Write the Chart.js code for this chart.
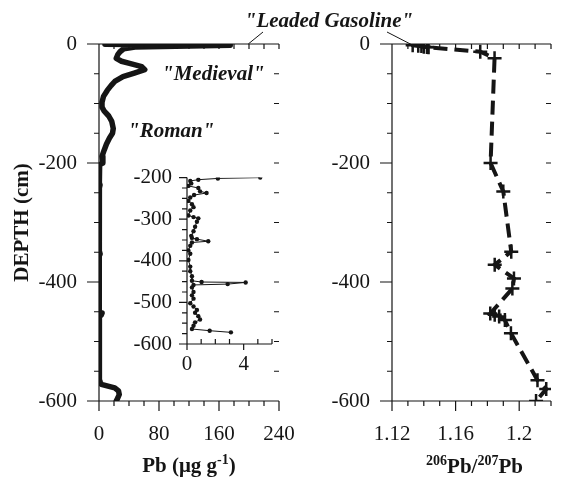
<!DOCTYPE html>
<html><head><meta charset="utf-8">
<script src="https://cdn.jsdelivr.net/npm/chart.js@4.4.1/dist/chart.umd.min.js"></script>
<style>
html,body{margin:0;padding:0;background:#fff;width:572px;height:478px;overflow:hidden}
#wrap{position:relative;width:572px;height:478px;background:#fff}
canvas{position:absolute}
</style></head><body>
<div id="wrap">
<canvas id="cA" width="572" height="478" style="left:0;top:0"></canvas>
<canvas id="cC" width="282" height="478" style="left:290px;top:0"></canvas>
<canvas id="cB" width="160" height="230" style="left:120px;top:150px"></canvas>
</div>
<script>
// ---------- DATA ----------
// Pb concentration, upper core (0 to -200 cm)
const pbUpperDepth = [-0.5,-2,-5,-8,-13,-18,-24,-29,-33,-38,-43,-49,-55,-63,-70,-78,-88,-98,-106,-113,-121,-130,-142,-150,-158,-168,-178,-189];
const pbUpperValue = [8,175,48,33,28,25,23,30,42,57,61,47,32,21,16,11,6,4,4,7,13,17,19,18,14,10,7,4];
// Pb concentration, -200 to -572 cm (shown in the inset)
const insetDepth = [-200,-202,-205,-208,-214,-220,-225,-233,-237,-242,-248,-256,-264,-271,-279,-291,-295,-298,-306,-318,-329,-340,-345,-348,-353,-356,-364,-375,-383,-398,-414,-425,-437,-448,-451,-452,-456,-458,-464,-475,-483,-491,-502,-510,-518,-525,-533,-541,-548,-556,-564,-568,-572];
const insetPb = [5.17,2.18,0.8,0.23,0.3,0.1,0.8,0.92,1.38,0.5,0.23,0.1,0.35,0.46,0.23,0.1,0.46,0.8,0.7,0.57,0.46,0.3,0.35,0.7,1.5,0.35,0.23,0.1,0.23,0.1,0.23,0.23,0.35,0.35,1.03,4.14,2.87,0.46,0.35,0.46,0.35,0.46,0.23,0.46,0.7,0.57,0.8,0.92,0.57,0.46,0.35,1.6,3.1];
// Pb concentration, bottom of core
const pbLowerDepth = [-575,-578,-583,-589,-595,-600];
const pbLowerValue = [12,21,26,27,25,23];
// 206Pb/207Pb ratio
const ratioDepth = [-2,-3,-3.5,-4.5,-5,-5.5,-13,-24,-200,-248,-349,-371,-394,-411,-453,-455,-458,-464,-486,-565,-580,-600];
const ratioValue = [1.133,1.1365,1.1385,1.140,1.142,1.143,1.1755,1.1845,1.182,1.190,1.195,1.1846,1.1967,1.1957,1.1818,1.1846,1.1874,1.191,1.1948,1.2115,1.217,1.2106];

// tick labels
const pbMajorTicks = [0,80,160,240];           const pbTickLabels = ['0','80','160','240'];
const depthMajorTicks = [0,-200,-400,-600];    const depthTickLabels = ['0','-200','-400','-600'];
const insetPbMajorTicks = [0,4];               const insetPbTickLabels = ['0','4'];
const insetDepthMajorTicks = [-200,-300,-400,-500,-600]; const insetDepthTickLabels = ['-200','-300','-400','-500','-600'];
const ratioMajorTicks = [1.12,1.16,1.2];       const ratioTickLabels = ['1.12','1.16','1.2'];

// ---------- HELPERS ----------
const ink = '#151515';
const serif = '"Liberation Serif", "Times New Roman", serif';
const tickFont = {family: serif, size: 21};
function steps(a, b, s){ const r=[]; const n=Math.round((b-a)/s); for(let i=0;i<=n;i++) r.push(Math.round((a+i*s)*1e6)/1e6); return r; }

function axis(minV, maxV, minorStep, major, labels, size, isX, pad){
  const minor = steps(minV, maxV, minorStep);
  return {
    type:'linear', min:minV, max:maxV,
    afterBuildTicks: s => { s.ticks = minor.map(v => ({value:v})); },
    afterFit: s => { if (isX) s.height = size; else s.width = size; },
    ticks:{autoSkip:false, maxRotation:0, minRotation:0, padding:pad, color:ink, font:tickFont,
      callback: v => { const i = major.findIndex(m => Math.abs(m-v) < 1e-9); return i < 0 ? '' : labels[i]; }},
    grid:{display:false, drawTicks:false},
    border:{display:false}
  };
}

function makeFrame(o){
  return {
    id:'frame',
    afterDraw(chart){
      const {ctx, chartArea:a} = chart; const xs = chart.scales.x, ys = chart.scales.y;
      const L=a.left, R=a.right, T=a.top, B=a.bottom;
      ctx.save(); ctx.strokeStyle = ink; ctx.lineWidth = 1.2; ctx.beginPath();
      if (o.lines.includes('left')) { ctx.moveTo(L,T); ctx.lineTo(L,B); }
      if (o.lines.includes('bottom')) { ctx.moveTo(L,B); ctx.lineTo(R,B); }
      if (o.lines.includes('top')) { ctx.moveTo(L,T); ctx.lineTo(R,T); }
      xs.ticks.forEach(t => {
        const p = xs.getPixelForValue(t.value); const mj = t.label !== '';
        if (o.bottom) { const len = mj ? o.bottom[0] : o.bottom[1]; ctx.moveTo(p,B); ctx.lineTo(p,B+len); }
        if (o.top) { ctx.moveTo(p,T); ctx.lineTo(p,T+o.top); }
      });
      ys.ticks.forEach(t => {
        const p = ys.getPixelForValue(t.value); const mj = t.label !== '';
        if (o.left) { const len = mj ? o.left[0] : o.left[1]; ctx.moveTo(L,p); ctx.lineTo(L-len,p); }
        if (o.right) { ctx.moveTo(R,p); ctx.lineTo(R-o.right,p); }
      });
      ctx.stroke(); ctx.restore();
      if (o.extra) o.extra(chart);
    }
  };
}

function richText(ctx, parts, cx, base, size, supSize, rise){
  const f = s => `bold ${s}px ${serif}`;
  let w = 0;
  parts.forEach(p => { ctx.font = f(p.sup ? supSize : size); w += ctx.measureText(p.t).width; });
  let x = cx - w/2;
  ctx.textAlign = 'left'; ctx.textBaseline = 'alphabetic';
  parts.forEach(p => { ctx.font = f(p.sup ? supSize : size); ctx.fillText(p.t, x, p.sup ? base - rise : base); x += ctx.measureText(p.t).width; });
}

const baseOpts = (pad) => ({
  responsive:false, animation:false, devicePixelRatio:1, events:[],
  layout:{padding:pad},
  plugins:{legend:{display:false}, tooltip:{enabled:false}}
});

// ---------- LEFT PANEL: Pb ----------
const pbDepthAll = pbUpperDepth.concat(insetDepth, pbLowerDepth);
const pbValueAll = pbUpperValue.concat(insetPb, pbLowerValue);
const pbSeries = pbDepthAll.map((d,i) => ({x: pbValueAll[i], y: d}));

new Chart(document.getElementById('cA'), {
  type:'scatter',
  data:{datasets:[{data:pbSeries, showLine:true, borderColor:ink, backgroundColor:ink, borderWidth:5.5,
    pointRadius:0, borderJoinStyle:'round', borderCapStyle:'round', tension:0}]},
  options:Object.assign(baseOpts({top:44, right:293, left:0, bottom:0}), {
    scales:{ x: axis(0,240,20,pbMajorTicks,pbTickLabels,77,true,21),
             y: axis(-600,0,50,depthMajorTicks,depthTickLabels,99,false,22) }
  }),
  plugins:[makeFrame({lines:['left','bottom','top'], left:[12,5], bottom:[10,5], top:5, right:5,
    extra(chart){
      const {ctx, chartArea:a, scales:{x, y}} = chart;
      ctx.save(); ctx.fillStyle = ink;
      // y title
      ctx.save(); ctx.translate(28, (a.top+a.bottom)/2); ctx.rotate(-Math.PI/2);
      ctx.font = `bold 21px ${serif}`; ctx.textAlign='center'; ctx.textBaseline='alphabetic';
      ctx.fillText('DEPTH (cm)', 0, 0); ctx.restore();
      // x title
      richText(ctx, [{t:'Pb (\u03bcg g'},{t:'-1',sup:true},{t:')'}], (a.left+a.right)/2, 472, 21, 14, 8);
      // annotations
      ctx.font = `italic bold 21px ${serif}`; ctx.textBaseline='alphabetic';
      ctx.textAlign='center'; ctx.fillText('"Leaded Gasoline"', 329, 27);
      ctx.textAlign='left';
      ctx.fillText('"Medieval"', 162, 80);
      ctx.fillText('"Roman"', 128, 137);
      ctx.strokeStyle = ink; ctx.lineWidth = 1;
      ctx.beginPath(); ctx.moveTo(263, 32); ctx.lineTo(x.getPixelForValue(199), y.getPixelForValue(0)); ctx.stroke();
      ctx.restore();
    }})]
});

// ---------- INSET ----------
new Chart(document.getElementById('cB'), {
  type:'scatter',
  data:{datasets:[{data:insetDepth.map((d,i) => ({x: insetPb[i], y: d})), showLine:true, borderColor:ink,
    backgroundColor:ink, borderWidth:1, pointRadius:2.2, pointBorderWidth:0, tension:0}]},
  options:Object.assign(baseOpts({top:21, right:6, left:0, bottom:0}), {
    scales:{ x: axis(0,6,1,insetPbMajorTicks,insetPbTickLabels,36,true,8),
             y: axis(-600,-200,25,insetDepthMajorTicks,insetDepthTickLabels,67,false,15) }
  }),
  plugins:[makeFrame({lines:['left','bottom'], left:[8,5], bottom:[6,-5]})]
});

// ---------- RIGHT PANEL: 206Pb/207Pb ----------
new Chart(document.getElementById('cC'), {
  type:'scatter',
  data:{datasets:[{data:ratioDepth.map((d,i) => ({x: ratioValue[i], y: d})), showLine:true, borderColor:ink,
    backgroundColor:ink, borderWidth:4, borderDash:[14,7], pointStyle:'cross', pointRadius:7,
    pointBorderWidth:2.5, pointBorderColor:ink, tension:0}]},
  options:Object.assign(baseOpts({top:44, right:0, left:0, bottom:0}), {
    scales:{ x: axis(1.12,1.22,0.01,ratioMajorTicks,ratioTickLabels,77,true,21),
             y: axis(-600,0,50,depthMajorTicks,depthTickLabels,102,false,22) }
  }),
  plugins:[makeFrame({lines:['left','bottom','top'], left:[12,5], bottom:[10,5], top:5, right:5,
    extra(chart){
      const {ctx, chartArea:a, scales:{x, y}} = chart;
      ctx.save(); ctx.fillStyle = ink;
      richText(ctx, [{t:'206',sup:true},{t:'Pb/'},{t:'207',sup:true},{t:'Pb'}], (a.left+a.right)/2 + 3, 473, 21, 14, 8);
      ctx.strokeStyle = ink; ctx.lineWidth = 1;
      ctx.beginPath(); ctx.moveTo(97, 32); ctx.lineTo(x.getPixelForValue(ratioValue[0]), y.getPixelForValue(ratioDepth[0])); ctx.stroke();
      ctx.restore();
    }})]
});
</script>
</body></html>
